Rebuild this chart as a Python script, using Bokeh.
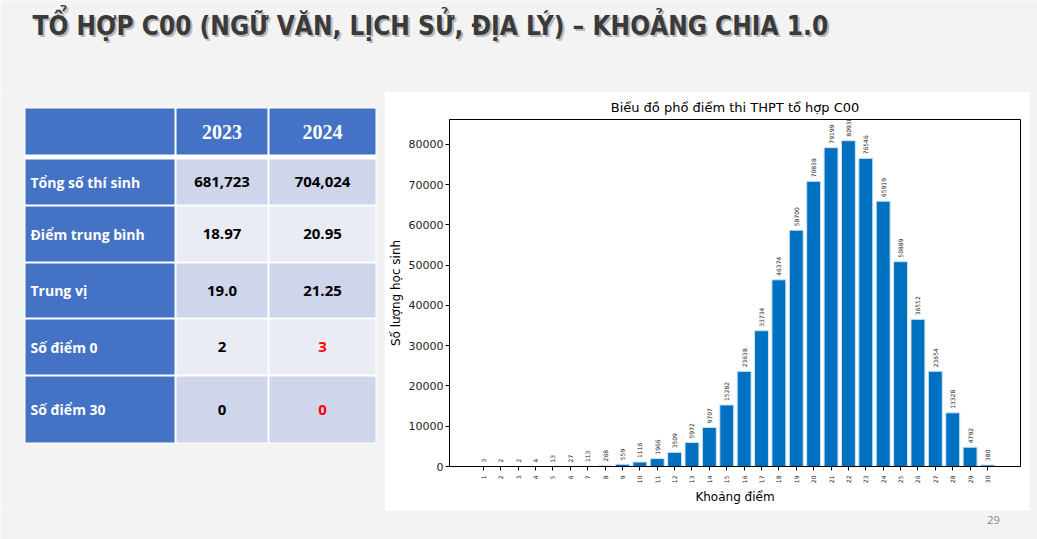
import math
from bokeh.plotting import figure
from bokeh.layouts import column, row
from bokeh.models import Range1d, ColumnDataSource, FixedTicker, NumeralTickFormatter
from bokeh.core.properties import value
from bokeh.embed import file_html
from bokeh.resources import INLINE

# ---------------- data ----------------
title_text = "TỔ HỢP C00 (NGỮ VĂN, LỊCH SỬ, ĐỊA LÝ) – KHOẢNG CHIA 1.0"
chart_title = "Biểu đồ phổ điểm thi THPT tổ hợp C00"
x_label = "Khoảng điểm"
y_label = "Số lượng học sinh"

scores = list(range(1, 31))
counts = [3, 2, 2, 4, 13, 27, 113, 268, 559, 1116, 1966, 3509, 5972, 9707, 15282,
          23638, 33734, 46374, 58700, 70838, 79199, 80938, 76546, 65919, 50889,
          36552, 23654, 13328, 4792, 380]
y_ticks = [0, 10000, 20000, 30000, 40000, 50000, 60000, 70000, 80000]

table_years = ["2023", "2024"]
table_rows = ["Tổng số thí sinh", "Điểm trung bình", "Trung vị", "Số điểm 0", "Số điểm 30"]
values_2023 = ["681,723", "18.97", "19.0", "2", "0"]
values_2024 = ["704,024", "20.95", "21.25", "3", "0"]
highlight_2024 = [False, False, False, True, True]
page_number = "29"

# ---------------- styles ----------------
SLIDE_BG = "#f3f3f3"
BLUE = "#4472C4"
ROW_DARK = "#CFD5EA"
ROW_LIGHT = "#E9EBF5"
BAR = "#0070C0"

W = 1037


def deco_fig(w, h, xr, yr):
    f = figure(width=w, height=h, x_range=Range1d(*xr), y_range=Range1d(*yr),
               output_backend="svg", toolbar_location=None, min_border=0)
    f.axis.visible = False
    f.grid.visible = False
    f.outline_line_color = None
    f.background_fill_color = SLIDE_BG
    f.border_fill_color = SLIDE_BG
    f.frame_align = False
    return f


# ---------------- title strip ----------------
tf = deco_fig(W, 92, (0, W), (92, 0))
TFONT = value("DejaVu Sans Condensed")
tf.text(x=[34], y=[27], text=[title_text], text_font=TFONT,
        text_font_style="bold", text_font_size="26px", text_color="#b8b8b8",
        text_baseline="alphabetic")
tf.text(x=[32], y=[25], text=[title_text], text_font=TFONT,
        text_font_style="bold", text_font_size="26px", text_color="#3a3a3a",
        text_baseline="alphabetic")

# ---------------- table ----------------
tb = deco_fig(385, 418, (0, 385), (510, 92))
col_edges = [24, 175, 268, 376]
row_edges = [(107, 155), (158, 205), (205, 262), (262, 318), (318, 375), (375, 443)]

tb.quad(left=[col_edges[0]], right=[col_edges[-1]], top=[row_edges[0][0]],
        bottom=[row_edges[-1][1]], fill_color="white", line_color=None)

L, R, T, B, C = [], [], [], [], []
for ri, (t, b) in enumerate(row_edges):
    for ci in range(3):
        L.append(col_edges[ci] + 1)
        R.append(col_edges[ci + 1] - 1)
        T.append(t + 1)
        B.append(b - 1)
        if ri == 0 or ci == 0:
            C.append(BLUE)
        else:
            C.append(ROW_DARK if ri % 2 == 1 else ROW_LIGHT)
tb.quad(left=L, right=R, top=T, bottom=B, fill_color=C, line_color=None)

hx = [(col_edges[1] + col_edges[2]) / 2, (col_edges[2] + col_edges[3]) / 2]
hy = (row_edges[0][0] + row_edges[0][1]) / 2
tb.text(x=hx, y=[hy, hy], text=table_years, text_font=value("Liberation Serif"),
        text_font_style="bold", text_font_size="20px", text_color="white",
        text_align="center", text_baseline="middle")

ry = [(t + b) / 2 for (t, b) in row_edges[1:]]
tb.text(x=[30] * len(table_rows), y=ry, text=table_rows, text_font=value("Open Sans"),
        text_font_style="bold", text_font_size="14px", text_color="white",
        text_align="left", text_baseline="middle")
tb.text(x=[hx[0]] * len(values_2023), y=ry, text=values_2023, text_font=value("Open Sans"),
        text_font_style="bold", text_font_size="15px", text_color="black",
        text_align="center", text_baseline="middle")
tb.text(x=[hx[1]] * len(values_2024), y=ry, text=values_2024, text_font=value("Open Sans"),
        text_font_style="bold", text_font_size="15px",
        text_color=["#FF0000" if h else "black" for h in highlight_2024],
        text_align="center", text_baseline="middle")

# ---------------- bar chart ----------------
p = figure(width=644, height=418, x_range=Range1d(-0.95, 31.9), y_range=Range1d(0, 86200),
           output_backend="svg", toolbar_location=None,
           min_border_left=62, min_border_right=9, min_border_top=10, min_border_bottom=44,
           title=chart_title)
p.frame_align = False
p.background_fill_color = "white"
p.border_fill_color = "white"
p.outline_line_color = "black"
p.outline_line_width = 1
p.grid.visible = False
p.title.align = "center"
p.title.text_font = "DejaVu Sans"
p.title.text_font_style = "normal"
p.title.text_font_size = "13px"
p.title.text_color = "black"

src = ColumnDataSource(dict(x=scores, top=counts, lab=[str(c) for c in counts]))
p.vbar(x="x", top="top", width=0.8, source=src, fill_color=BAR, line_color="#cfe3f3",
       line_width=1)
p.text(x="x", y="top", text="lab", source=src, angle=math.pi / 2, text_align="left",
       text_baseline="middle", y_offset=-4, text_font=value("DejaVu Sans"),
       text_font_size="6px", text_color="#222222")

p.xaxis.ticker = FixedTicker(ticks=scores)
p.xaxis.major_label_orientation = math.pi / 2
p.xaxis.major_label_text_font_size = "6px"
p.xaxis.axis_label = x_label
p.yaxis.ticker = FixedTicker(ticks=y_ticks)
p.yaxis.formatter = NumeralTickFormatter(format="0")
p.yaxis.major_label_text_font_size = "11px"
p.yaxis.axis_label = y_label
for ax in (p.xaxis[0], p.yaxis[0]):
    ax.axis_line_color = "black"
    ax.major_tick_line_color = "black"
    ax.major_tick_out = 4
    ax.major_tick_in = 0
    ax.minor_tick_line_color = None
    ax.major_label_text_font = "DejaVu Sans"
    ax.major_label_text_color = "#222222"
    ax.axis_label_text_font = "DejaVu Sans"
    ax.axis_label_text_font_style = "normal"
    ax.axis_label_text_font_size = "12px"
    ax.axis_label_text_color = "black"
p.yaxis.major_label_standoff = 2
p.xaxis.axis_label_standoff = 4
p.yaxis.axis_label_standoff = 3

filler = deco_fig(8, 418, (0, 1), (0, 1))

# ---------------- bottom strip ----------------
bf = deco_fig(W, 29, (0, W), (539, 510))
bf.text(x=[993], y=[519], text=[page_number], text_font=value("Open Sans"),
        text_font_size="11px", text_color="#888888", text_align="center",
        text_baseline="middle")

layout = column(tf, row(tb, p, filler), bf)
open("out.html", "w").write(file_html(layout, INLINE))
